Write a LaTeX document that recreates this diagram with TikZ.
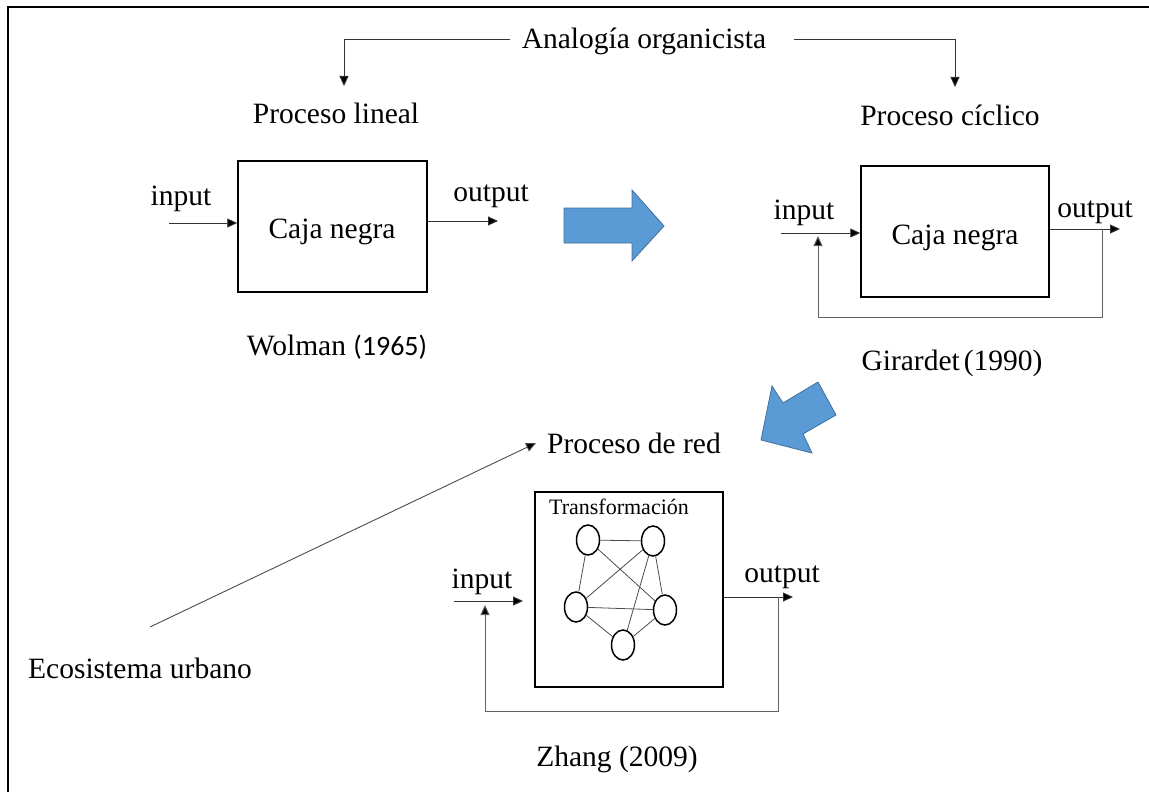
\documentclass[tikz,border=0pt]{standalone}
\usepackage{fontspec}
\setmainfont{Liberation Serif}
\newfontfamily\calibrifont{Carlito}
\usetikzlibrary{arrows.meta,shapes.geometric}
\definecolor{flowblue}{HTML}{5B9BD5}
\definecolor{flowedge}{HTML}{41719C}
\begin{document}
\begin{tikzpicture}[x=1pt,y=-1pt,
  lbl/.style={inner sep=0pt, anchor=base, font=\fontsize{29.5}{34}\selectfont},
  smalllbl/.style={inner sep=0pt, anchor=base, font=\fontsize{22}{26}\selectfont},
  blackbox/.style={draw, line width=1.5pt, inner sep=0pt},
  conn/.style={draw=black!80, line width=0.9pt, -{Triangle[length=10pt,width=9pt,fill=black]}},
  loopline/.style={draw=black!62, line width=1pt, -{Triangle[length=10pt,width=9pt,fill=black]}},
  netnode/.style={ellipse, draw, line width=1.5pt, minimum width=23pt, minimum height=30pt, inner sep=0pt},
  netlink/.style={draw=black!70, line width=0.8pt},
  bigarrow/.style={fill=flowblue, draw=flowedge, line width=0.8pt, line join=miter},
]
\useasboundingbox (0,0) rectangle (1149,792);

% frame (top and left edges)
\draw[line width=2pt] (8,792) -- (8,7) -- (1149,7);

% heading and its two branches
\node[lbl] (analogia) at (644,49) {Analogía organicista};
\node[lbl] (lineal) at (336,124) {Proceso lineal};
\node[lbl] (ciclico) at (950,125) {Proceso cíclico};
\coordinate (anL) at (510,39);
\coordinate (anR) at (794,39);
\coordinate (linTip) at (344,86);
\coordinate (cicTip) at (955,87);
\draw[conn] (anL) -| (linTip);
\draw[conn] (anR) -| (cicTip);

% linear process
\node[blackbox, minimum width=189pt, minimum height=131pt] (box1) at (332.5,226.5) {};
\node[lbl] (caja1) at (332,238) {Caja negra};
\node[lbl] (in1) at (181,205) {input};
\node[lbl] (out1) at (491,201) {output};
\coordinate (in1s) at (169,223);
\coordinate (out1e) at (498,221);
\draw[conn] (in1s) -- (box1.west |- in1s);
\draw[conn] (box1.east |- out1e) -- (out1e);
\node[lbl] (wolman) at (337,355) {Wolman {\calibrifont\fontsize{28}{34}\selectfont(1965)}};

% cyclic process
\node[blackbox, minimum width=188pt, minimum height=131pt] (box2) at (955,231.5) {};
\node[lbl] (caja2) at (955,244) {Caja negra};
\node[lbl] (in2) at (804,219) {input};
\node[lbl] (out2) at (1095,217) {output};
\coordinate (in2s) at (781,233);
\coordinate (out2e) at (1120,229);
\coordinate (fb2s) at (1102,229);
\coordinate (fb2e) at (818,236);
\draw[conn] (in2s) -- (box2.west |- in2s);
\draw[conn] (box2.east |- out2e) -- (out2e);
\draw[loopline] (fb2s) -- ++(0,88) -| (fb2e);
\node[lbl] (girardet) at (952,370) {Girardet\hspace{4pt}(1990)};

% block arrows between the stages
\path[bigarrow] (564,208) -- (632,208) -- (632,190) -- (664,226)
  -- (632,261) -- (632,243) -- (564,243) -- cycle;
\path[bigarrow] (761,440) -- (772,386) -- (783,403) -- (818,382)
  -- (836,415) -- (803,434) -- (812,453) -- cycle;

% network process
\node[lbl] (red) at (634,453) {Proceso de red};
\node[lbl] (eco) at (140,678) {Ecosistema urbano};
\coordinate (ecoS) at (150,627);
\coordinate (redTip) at (536,443);
\draw[conn, draw=black!70] (ecoS) -- (redTip);

\node[blackbox, minimum width=188pt, minimum height=195pt] (box3) at (629,589.5) {};
\node[smalllbl] (transf) at (619,514) {Transformación};
\node[netnode] (nA) at (588,540) {};
\node[netnode] (nB) at (653,541) {};
\node[netnode] (nC) at (576,607) {};
\node[netnode] (nD) at (665,610) {};
\node[netnode] (nE) at (623,645) {};
\draw[netlink] (nA) -- (nB);
\draw[netlink] (nA) -- (nC);
\draw[netlink] (nA) -- (nD);
\draw[netlink] (nB) -- (nC);
\draw[netlink] (nB) -- (nD);
\draw[netlink] (nB) -- (nE);
\draw[netlink] (nC) -- (nD);
\draw[netlink] (nC) -- (nE);
\draw[netlink] (nE) -- (nD);

\node[lbl] (in3) at (482,588) {input};
\node[lbl] (out3) at (782,582) {output};
\coordinate (in3s) at (454,601);
\coordinate (in3e) at (523,601);
\coordinate (out3e) at (793,597);
\coordinate (fb3s) at (778,597);
\coordinate (fb3e) at (485,605);
\draw[conn] (in3s) -- (in3e);
\draw[conn] (box3.east |- out3e) -- (out3e);
\draw[loopline] (fb3s) -- ++(0,114) -| (fb3e);
\node[lbl] (zhang) at (617,766) {Zhang (2009)};
\end{tikzpicture}
\end{document}
